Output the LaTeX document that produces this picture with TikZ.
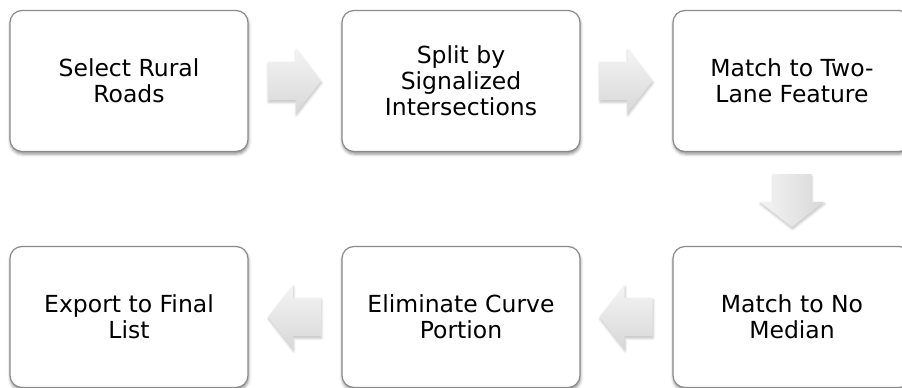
\documentclass[tikz,border=0pt]{standalone}
\usepackage{fontspec}
\setmainfont{DejaVu Sans}
\usetikzlibrary{shapes.arrows,shadows.blur,calc}
\definecolor{boxline}{HTML}{8A8A8A}
\definecolor{arrowtop}{HTML}{F4F4F4}
\definecolor{arrowbot}{HTML}{D8D8D8}
\begin{document}
\begin{tikzpicture}[x=1pt,y=-1pt,
  stepbox/.style={draw=boxline, line width=1.2pt, rounded corners=12pt, fill=white,
    minimum width=238pt, minimum height=141pt, align=center, text=black,
    font=\fontsize{23.5}{26}\selectfont,
    blur shadow={shadow xshift=0.5pt, shadow yshift=-2.5pt, shadow blur radius=3pt, shadow opacity=45}},
  flow/.style={single arrow, draw=none, inner xsep=0pt, inner ysep=19pt,
    single arrow head extend=13pt, single arrow tip angle=104, minimum height=53pt,
    top color=arrowtop, bottom color=arrowbot,
    blur shadow={shadow xshift=0.5pt, shadow yshift=-2pt, shadow blur radius=2.5pt, shadow opacity=25}},
  flowdown/.style={flow, shape border rotate=270, inner xsep=19pt, inner ysep=0pt,
    left color=arrowtop, right color=arrowbot}]
\clip (0,0) rectangle (902,388);
\node[stepbox] (a) at (129,81) {Select Rural\\Roads};
\node[stepbox] (b) at (461,81) {Split by\\Signalized\\Intersections};
\node[stepbox] (c) at (792,81) {Match to Two-\\Lane Feature};
\node[stepbox] (f) at (792,317) {Match to No\\Median};
\node[stepbox] (e) at (461,317) {Eliminate Curve\\Portion};
\node[stepbox] (d) at (129,317) {Export to Final\\List};
\node[flow] (ab) at ($(a.east)!0.5!(b.west)+(-8,0)$) {};
\node[flow] (bc) at ($(b.east)!0.5!(c.west)+(-8,0)$) {};
\node[flowdown] (cf) at ($(c.south)!0.5!(f.north)+(0,-6)$) {};
\node[flow, shape border rotate=180] (fe) at ($(f.west)!0.5!(e.east)+(7,0)$) {};
\node[flow, shape border rotate=180] (ed) at ($(e.west)!0.5!(d.east)+(7,0)$) {};
\end{tikzpicture}
\end{document}
